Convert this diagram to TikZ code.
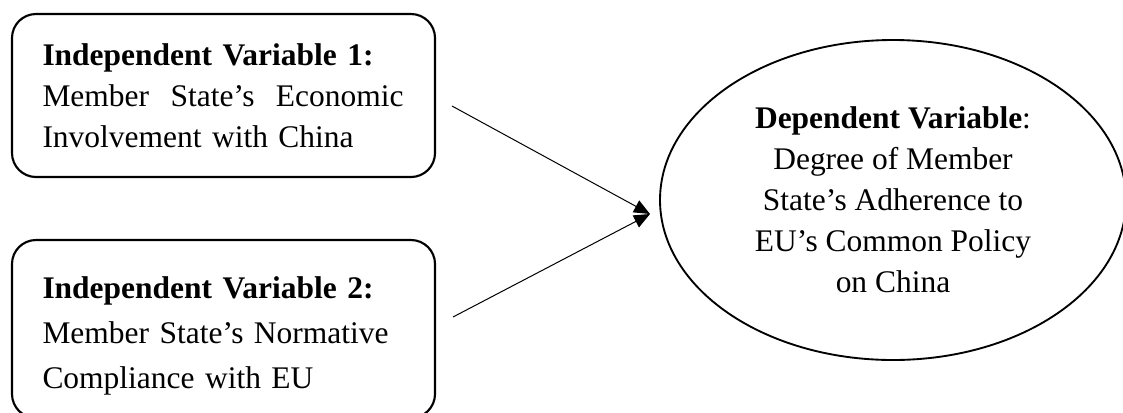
\documentclass[tikz,border=0pt]{standalone}
\usepackage{fontspec}
\setmainfont{Liberation Serif}
\usetikzlibrary{arrows.meta,shapes.geometric}
\begin{document}
\begin{tikzpicture}[x=0.75pt,y=-0.75pt,
  txt/.style={font=\fontsize{23.6}{30.75}\selectfont},
  varbox/.style={draw, line width=1.6pt, rounded corners=18pt, inner sep=0pt,
    minimum width=317.25pt, txt, text width=271.5pt, align=left},
  depell/.style={draw, ellipse, line width=1.4pt, inner sep=0pt,
    minimum width=349.5pt, minimum height=240pt, txt, align=center},
  conn/.style={line width=0.75pt, -{Triangle[length=12pt,width=10pt]}}]
\path[use as bounding box, clip] (0,0) rectangle (1123,412);
\node[varbox, minimum height=122.25pt] (iv1) at (223.5,95.5)
  {\textbf{Independent Variable 1:}\\
   \leavevmode\makebox[270.75pt][l]{Member\hfill State’s\hfill Economic}\\
   Involvement with China};
\node[varbox, minimum height=133.5pt,
  font=\fontsize{23.6}{33.75}\selectfont] (iv2) at (223.5,329)
  {\rule{0pt}{27pt}\textbf{Independent Variable 2:}\\
   Member State’s Normative\\
   Compliance with EU};
\node[depell] (dv) at (893,200)
  {\textbf{Dependent Variable}:\\
   Degree of Member\\
   State’s Adherence to\\
   EU’s Common Policy\\
   on China};
\coordinate (s1) at (452,106);
\coordinate (s2) at (453,317);
\coordinate (t) at (650,214);
\draw[conn] (s1) -- (t);
\draw[conn] (s2) -- (t);
\end{tikzpicture}
\end{document}
